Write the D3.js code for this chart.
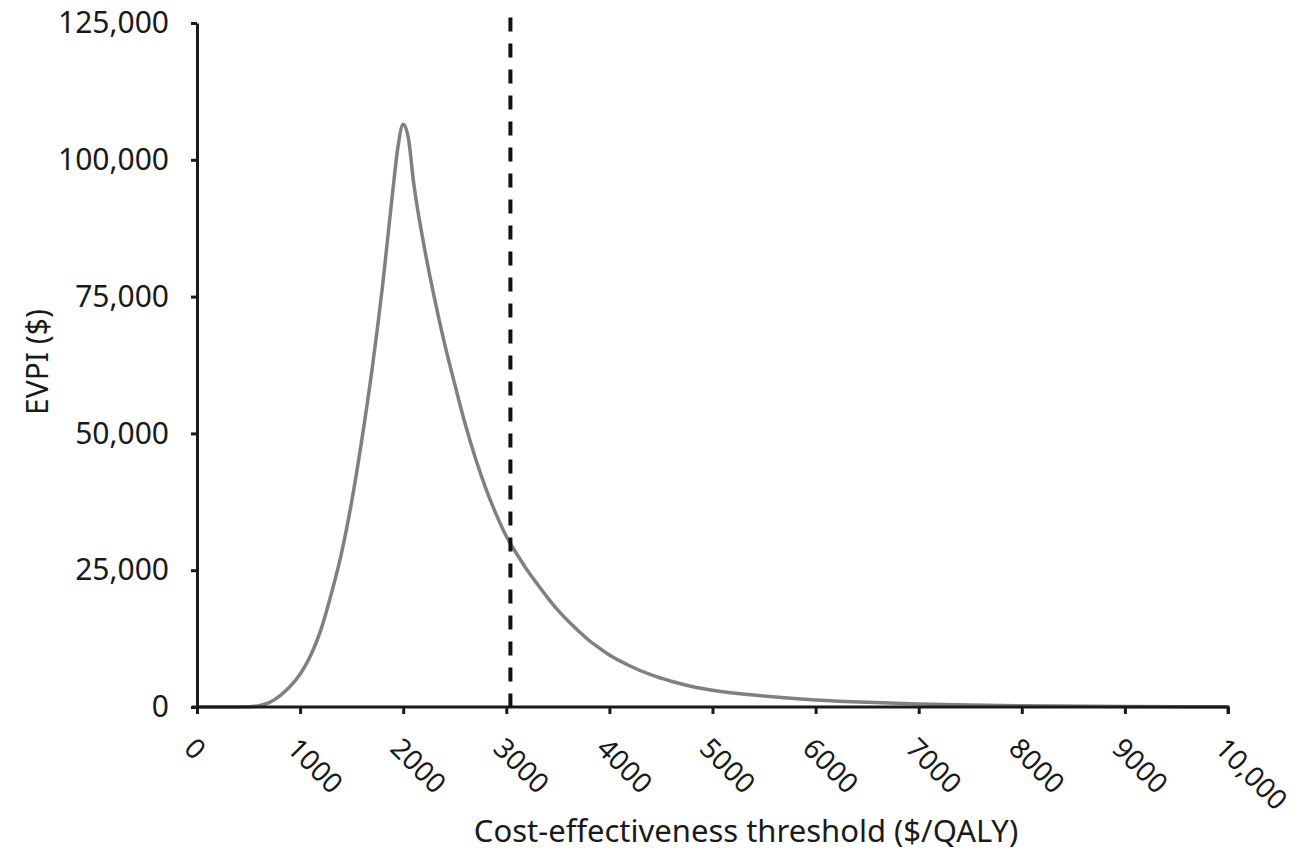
<!DOCTYPE html>
<html>
<head>
<meta charset="utf-8">
<script src="https://cdn.jsdelivr.net/npm/d3@7"></script>
<style>
  body { margin: 0; background: #fff; }
  text { font-family: "Noto Sans", sans-serif; fill: #1a1a1a; }
</style>
</head>
<body>
<div id="chart"></div>
<script>
// threshold ($/QALY) and EVPI ($)
var thresholds = [0, 300, 500, 600, 700, 800, 900, 1000, 1100, 1200, 1300, 1400, 1500, 1600, 1700, 1800, 1900, 1950, 2000, 2050, 2100, 2200, 2300, 2400, 2500, 2600, 2700, 2800, 2900, 3000, 3100, 3200, 3300, 3400, 3500, 3600, 3700, 3800, 3900, 4000, 4200, 4400, 4600, 4800, 5000, 5500, 6000, 6500, 7000, 7500, 8000, 9000, 10000];
var evpi = [0, 0, 50, 250, 800, 2000, 3700, 6000, 9300, 14000, 20500, 28000, 37500, 49000, 62000, 77000, 94500, 102500, 106500, 104000, 96000, 84500, 75000, 66500, 59000, 51800, 45500, 40000, 35300, 31200, 28000, 25100, 22500, 20000, 17700, 15700, 13900, 12200, 10800, 9500, 7500, 5900, 4700, 3750, 3050, 2000, 1300, 850, 550, 350, 220, 90, 30];
var xTicks = [0, 1000, 2000, 3000, 4000, 5000, 6000, 7000, 8000, 9000, 10000];
var yTicks = [0, 25000, 50000, 75000, 100000, 125000];
var cutoff = 3040;

var svgWidth = 1301;
var svgHeight = 855;
var margin = {top: 23, left: 197, right: 73, bottom: 148};

var width = svgWidth - margin.left - margin.right;
var height = svgHeight - margin.top - margin.bottom;

var svg = d3.select("#chart")
    .append("svg")
    .attr("width", svgWidth)
    .attr("height", svgHeight);

var chartGroup = svg.append("g")
    .attr("transform", `translate(${margin.left},${margin.top})`);

var xScale = d3.scaleLinear().domain([0, 10000]).range([0, width]);
var yScale = d3.scaleLinear().domain([0, 125000]).range([height, 0]);

var fmt = function(d) { return d >= 10000 ? d3.format(",")(d) : String(d); };

// curve
var data = thresholds.map((t, i) => ({x: t, y: evpi[i]}));
var line = d3.line()
    .x(d => xScale(d.x))
    .y(d => yScale(d.y))
    .curve(d3.curveMonotoneX);

chartGroup.append("path")
    .datum(data)
    .attr("d", line)
    .attr("fill", "none")
    .attr("stroke", "#808080")
    .attr("stroke-width", 3.5);

// y axis
var leftAxis = d3.axisLeft(yScale).tickValues(yTicks).tickSize(6).tickSizeOuter(0)
    .tickFormat(d3.format(","));
var yAxis = chartGroup.append("g").call(leftAxis);
yAxis.select(".domain").attr("stroke", "#1a1a1a").attr("stroke-width", 3);
yAxis.selectAll(".tick line").attr("stroke", "#1a1a1a").attr("stroke-width", 3);
yAxis.selectAll(".tick text")
    .attr("x", -28)
    .style("font-size", "30px")
    .style("font-family", "Noto Sans");

// x axis
var bottomAxis = d3.axisBottom(xScale).tickValues(xTicks).tickSize(7).tickSizeOuter(0)
    .tickFormat(fmt);
var xAxis = chartGroup.append("g")
    .attr("transform", `translate(0,${height})`)
    .call(bottomAxis);
xAxis.select(".domain").attr("stroke", "#1a1a1a").attr("stroke-width", 3)
    .attr("d", `M-5,0H${width}V7`);
xAxis.selectAll(".tick line").attr("stroke", "#1a1a1a").attr("stroke-width", 3);
xAxis.selectAll(".tick text")
    .attr("y", 0)
    .attr("dy", 0)
    .attr("text-anchor", "start")
    .attr("transform", "translate(-15,43) rotate(45)")
    .style("font-size", "28px")
    .style("font-family", "Noto Sans");

// dashed threshold line
chartGroup.append("line")
    .attr("x1", xScale(cutoff))
    .attr("x2", xScale(cutoff))
    .attr("y1", yScale(126000))
    .attr("y2", yScale(0))
    .attr("stroke", "#111")
    .attr("stroke-width", 4)
    .attr("stroke-dasharray", "14,12");

// labels
chartGroup.append("text")
    .attr("x", 746 - margin.left)
    .attr("y", height + 135)
    .attr("text-anchor", "middle")
    .style("font-size", "31px")
    .text("Cost-effectiveness threshold ($/QALY)");

chartGroup.append("text")
    .attr("transform", "rotate(-90)")
    .attr("x", -(362 - margin.top))
    .attr("y", 48 - margin.left)
    .attr("text-anchor", "middle")
    .style("font-size", "30px")
    .text("EVPI ($)");
</script>
</body>
</html>
